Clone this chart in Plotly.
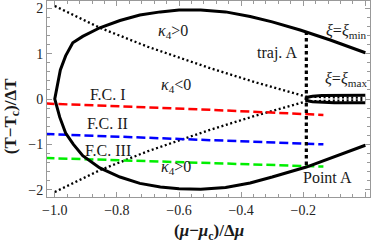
import plotly.graph_objects as go

# --- xi = xi_min boundary (solid black) ---
ximin_x = [0.0, -0.05, -0.113, -0.21, -0.30, -0.371, -0.45, -0.53, -0.60, -0.66, -0.726, -0.79,
           -0.855, -0.91, -0.942, -0.965, -0.982, -1.0,
           -0.984, -0.965, -0.94, -0.91, -0.855, -0.79, -0.726, -0.66, -0.60, -0.53, -0.45,
           -0.371, -0.30, -0.19, -0.10, 0.0]
ximin_y = [1.02, 1.15, 1.30, 1.52, 1.70, 1.82, 1.92, 1.96, 1.96, 1.92, 1.85, 1.73,
           1.57, 1.38, 1.24, 0.95, 0.64, 0.0,
           -0.40, -0.75, -1.0, -1.25, -1.52, -1.72, -1.86, -1.94, -1.98, -1.99, -1.95,
           -1.85, -1.72, -1.50, -1.27, -1.02]

# --- xi = xi_max small loop ---
ximax_x = [0.0, -0.05, -0.10, -0.14, -0.17, -0.185, -0.19, -0.185, -0.17, -0.14, -0.10, -0.05, 0.0]
ximax_y = [0.085, 0.085, 0.08, 0.075, 0.06, 0.04, 0.0, -0.04, -0.06, -0.075, -0.08, -0.085, -0.085]

# --- kappa_4 = 0 boundaries (dotted) ---
k_up_x = [-1.0, -0.855, -0.70, -0.50, -0.35, -0.19, 0.0]
k_up_y = [2.05, 1.57, 1.15, 0.68, 0.36, 0.05, 0.025]
k_lo_x = [-1.0, -0.855, -0.70, -0.50, -0.35, -0.19, 0.0]
k_lo_y = [-2.05, -1.57, -1.15, -0.68, -0.36, -0.05, -0.025]

# --- freeze-out curves F.C. I, II, III ---
fc_x = [-1.03, -0.53, -0.135]
fc1_y = [-0.10, -0.23, -0.35]
fc2_y = [-0.77, -0.89, -1.00]
fc3_y = [-1.30, -1.41, -1.49]

# --- trajectory A ---
traj_x = [-0.19, -0.19]
traj_y = [1.49, -1.49]

fig = go.Figure()

def line(x, y, color, width, dash=None):
    fig.add_trace(go.Scatter(x=x, y=y, mode='lines', hoverinfo='skip',
                             line=dict(color=color, width=width, dash=dash)))

line(k_up_x, k_up_y, 'black', 2.3, '2px,2.6px')
line(k_lo_x, k_lo_y, 'black', 2.3, '2px,2.6px')
line(fc_x, fc1_y, '#ff0000', 2.5, '9px,4px')
line(fc_x, fc2_y, '#0000ff', 2.5, '9px,4px')
line(fc_x, fc3_y, '#00ee00', 2.5, '9px,4px')
line(ximin_x, ximin_y, 'black', 3)
line(ximax_x, ximax_y, 'black', 3)
line(traj_x, traj_y, 'black', 3.2, '3.5px,3px')

TF = 'Liberation Serif'
anns = [
    (-0.62, 1.48, '<i>κ</i><sub>4</sub>&gt;0'),
    (-0.61, 0.29, '<i>κ</i><sub>4</sub>&lt;0'),
    (-0.61, -1.52, '<i>κ</i><sub>4</sub>&gt;0'),
    (-0.83, 0.09, 'F.C. I'),
    (-0.83, -0.53, 'F.C. II'),
    (-0.83, -1.13, 'F.C. III'),
    (-0.286, 1.01, 'traj. A'),
    (-0.061, 1.48, '<i>ξ</i>=<i>ξ</i><sub>min</sub>'),
    (-0.061, 0.42, '<i>ξ</i>=<i>ξ</i><sub>max</sub>'),
    (-0.122, -1.72, 'Point A'),
]
for ax_, ay_, t in anns:
    fig.add_annotation(x=ax_, y=ay_, text=t, showarrow=False,
                       font=dict(family=TF, size=16, color='#1a1a1a'))

fig.add_annotation(xref='paper', yref='paper', x=0.5, y=-0.178, yanchor='middle',
                   text='<b>(<i>μ</i>−<i>μ</i><sub>c</sub>)/Δ<i>μ</i></b>', showarrow=False,
                   font=dict(family=TF, size=17, color='#1a1a1a'))
fig.add_annotation(xref='paper', yref='paper', x=-0.15, y=0.41, xanchor='left',
                   text='<b>(T−T<sub>c</sub>)/ΔT</b>', textangle=-90, showarrow=False,
                   font=dict(family=TF, size=17, color='#1a1a1a'))

fig.update_layout(width=374, height=245, margin=dict(l=47, r=4, t=1, b=48),
                  plot_bgcolor='white', paper_bgcolor='white', showlegend=False,
                  font=dict(family=TF, size=14, color='#222'))
axcommon = dict(ticks='inside', tickcolor='#999', showline=True, linecolor='#999', linewidth=1,
                mirror='ticks', showgrid=False, zeroline=False)
fig.update_xaxes(range=[-1.025, 0.015], tick0=0, dtick=0.2, tickformat='.1f', ticklen=5,
                 minor=dict(ticks='inside', ticklen=3, tick0=0, dtick=0.04, tickcolor='#999', showgrid=False),
                 **axcommon)
fig.update_yaxes(range=[-2.16, 2.16], tick0=0, dtick=1, ticklen=5,
                 minor=dict(ticks='inside', ticklen=3, tick0=0, dtick=0.2, tickcolor='#999', showgrid=False),
                 **axcommon)

fig.write_html('out.html', config={'displayModeBar': False},
               post_script="document.body.style.margin='0';document.body.style.overflow='hidden';")
